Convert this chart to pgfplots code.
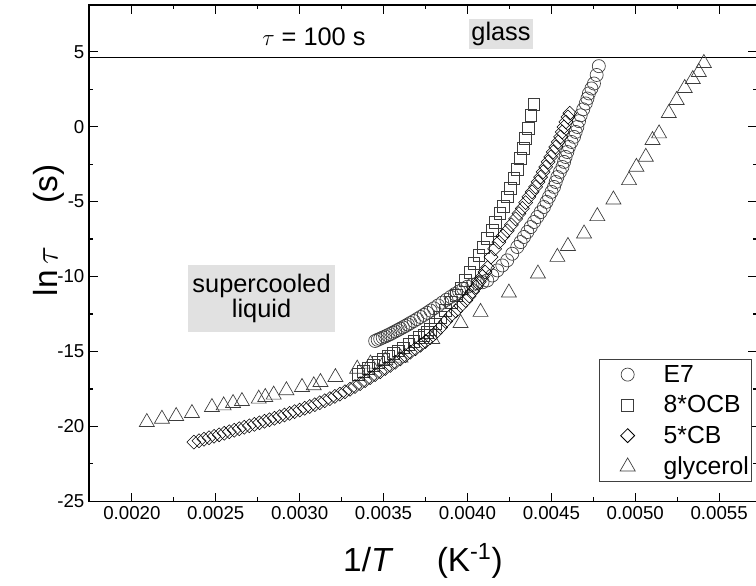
\documentclass[border=0pt]{standalone}
\usepackage{fontspec}
\setmainfont{Liberation Sans}
\usepackage{pgfplots}
\pgfplotsset{compat=1.18}
\definecolor{boxgray}{RGB}{225,225,225}
\definecolor{mk}{RGB}{60,60,60}

\begin{document}
\begin{tikzpicture}
\begin{axis}[
    scale only axis,
    width=500.25pt, height=371.8pt,
    xmin=0.001745, xmax=0.005725,
    ymin=-25, ymax=8.12,
    xtick={0.0020,0.0025,0.0030,0.0035,0.0040,0.0045,0.0050,0.0055},
    ytick={-25,-20,-15,-10,-5,0,5},
    minor x tick num=1, minor y tick num=1,
    scaled x ticks=false,
    xticklabel style={/pgf/number format/.cd, fixed, fixed zerofill, precision=4},
    /pgf/number format/assume math mode=true,
    ticklabel style={font=\fontsize{14}{16}\selectfont},
    tick align=inside,
    major tick length=6.5pt, minor tick length=3.2pt,
    axis line style={line width=1pt},
    every tick/.style={black, line width=0.9pt},
    xlabel={1/\textit{T}\hspace{1.3em}(K\textsuperscript{-1})},
    ylabel={ln\,$\tau$\hspace{1.3em}(s)},
    label style={font=\fontsize{25}{30}\selectfont},
    xlabel style={at={(axis description cs:0.5,-0.12)}, anchor=center},
    ylabel style={at={(axis description cs:-0.06,0.546)}, anchor=center},
    legend style={at={(rel axis cs:0.9925,0.286)}, anchor=north east,
        draw=black!75, line width=0.6pt, inner xsep=1pt, inner ysep=3pt,
        font=\fontsize{18.5}{22}\selectfont, row sep=6.5pt,
        nodes={inner sep=1pt}},
    legend cell align=left,
    legend image code/.code={\path[draw=none, fill=none] (-20pt,-4pt) rectangle (26pt,4pt); \draw[#1] plot coordinates {(0pt,0pt)};},
    every axis plot/.append style={only marks, mark options={draw=mk, fill=white, line width=0.5pt}},
]
\addplot[black, line width=1pt, no marks, forget plot, sharp plot] coordinates {(0.0015,4.605) (0.0060,4.605)};

% E7
\addplot[mark=o, mark size=4.9pt] coordinates {
(0.003450,-14.30) (0.003465,-14.22) (0.003480,-14.15) (0.003495,-14.07)
(0.003510,-14.00) (0.003525,-13.92) (0.003540,-13.84) (0.003555,-13.75)
(0.003570,-13.66) (0.003585,-13.57) (0.003600,-13.48) (0.003615,-13.39)
(0.003630,-13.30) (0.003645,-13.20) (0.003660,-13.10) (0.003680,-12.97)
(0.003700,-12.84) (0.003720,-12.70) (0.003740,-12.56) (0.003760,-12.42)
(0.003780,-12.27) (0.003800,-12.12) (0.003825,-11.93) (0.003850,-11.74)
(0.003875,-11.55) (0.003900,-11.36) (0.003925,-11.17) (0.003950,-10.99)
(0.003975,-10.82) (0.004000,-10.68) (0.004030,-10.55) (0.004060,-10.45)
(0.004090,-10.38) (0.004118,-10.26) (0.004148,-9.93) (0.004178,-9.59)
(0.004208,-9.26) (0.004237,-8.92) (0.004267,-8.48) (0.004297,-8.03)
(0.004317,-7.70) (0.004337,-7.36) (0.004357,-7.03) (0.004377,-6.70)
(0.004397,-6.36) (0.004416,-6.03) (0.004436,-5.70) (0.004456,-5.36)
(0.004471,-5.02) (0.004486,-4.69) (0.004501,-4.35) (0.004516,-4.02)
(0.004526,-3.69) (0.004536,-3.36) (0.004551,-3.02) (0.004566,-2.69)
(0.004576,-2.35) (0.004585,-2.02) (0.004595,-1.69) (0.004605,-1.35)
(0.004620,-1.02) (0.004635,-0.68) (0.004645,-0.35) (0.004655,-0.02)
(0.004665,0.37) (0.004675,0.76) (0.004690,1.16) (0.004705,1.55)
(0.004715,1.88) (0.004724,2.22) (0.004739,2.55) (0.004754,2.88)
(0.004770,3.45) (0.004783,4.04)
};
\addlegendentry{E7}

% 8*OCB
\addplot[mark=square, mark size=4.4pt] coordinates {
(0.003350,-16.55) (0.003380,-16.35) (0.003410,-16.15) (0.003440,-15.95)
(0.003470,-15.75) (0.003500,-15.55) (0.003530,-15.35) (0.003560,-15.15)
(0.003590,-14.95) (0.003620,-14.75) (0.003650,-14.53) (0.003680,-14.30)
(0.003710,-14.08) (0.003740,-13.90) (0.003760,-13.70) (0.003780,-13.52)
(0.003810,-13.15) (0.003840,-12.71) (0.003869,-12.26) (0.003903,-11.71)
(0.003935,-11.26) (0.003963,-10.81) (0.003989,-10.26) (0.004014,-9.70)
(0.004038,-9.14) (0.004068,-8.59) (0.004094,-8.03) (0.004118,-7.47)
(0.004148,-6.92) (0.004168,-6.36) (0.004193,-5.80) (0.004213,-5.31)
(0.004237,-4.69) (0.004257,-4.13) (0.004277,-3.46) (0.004297,-2.86)
(0.004317,-2.13) (0.004333,-1.46) (0.004347,-0.79) (0.004361,-0.12)
(0.004377,0.77) (0.004396,1.50)
};
\addlegendentry{8*OCB}

% 5*CB
\addplot[mark=square, mark size=3.7pt, mark options={rotate=45}] coordinates {
(0.00237,-21.05) (0.00240,-20.96) (0.00243,-20.86) (0.00246,-20.76)
(0.00249,-20.66) (0.00252,-20.56) (0.00255,-20.46) (0.00258,-20.36)
(0.00261,-20.26) (0.00264,-20.16) (0.00267,-20.06) (0.00270,-19.96)
(0.00273,-19.86) (0.00276,-19.76) (0.00279,-19.66) (0.00282,-19.56)
(0.00285,-19.46) (0.00288,-19.35) (0.00291,-19.24) (0.00294,-19.13)
(0.00297,-19.02) (0.00300,-18.91) (0.00303,-18.79) (0.00306,-18.67)
(0.00309,-18.55) (0.00312,-18.42) (0.00315,-18.29) (0.00318,-18.15)
(0.00321,-18.00) (0.00324,-17.85) (0.00327,-17.69) (0.00330,-17.52)
(0.00333,-17.34) (0.00336,-17.15) (0.00339,-16.95) (0.00342,-16.75)
(0.00345,-16.55) (0.00348,-16.35) (0.00351,-16.14) (0.00354,-15.93)
(0.00357,-15.72) (0.00360,-15.50) (0.00363,-15.28) (0.00366,-15.05)
(0.00369,-14.82) (0.00372,-14.58) (0.00375,-14.33) (0.00378,-14.07)
(0.00381,-13.75) (0.00384,-13.40) (0.00387,-13.00) (0.00390,-12.60)
(0.00393,-12.30) (0.00396,-11.95) (0.00399,-11.60) (0.00401,-11.30)
(0.00403,-11.00) (0.00405,-10.70) (0.00407,-10.35) (0.00409,-10.00)
(0.004105,-9.70) (0.00412,-9.40) (0.00414,-8.70) (0.004162,-8.15)
(0.004187,-7.70) (0.004212,-7.30) (0.004237,-6.95) (0.004262,-6.55)
(0.004287,-6.15) (0.004307,-5.80) (0.004327,-5.45) (0.004347,-5.07)
(0.004366,-4.69) (0.004386,-4.35) (0.004406,-4.02) (0.004421,-3.69)
(0.004436,-3.36) (0.004451,-3.02) (0.004466,-2.69) (0.004481,-2.35)
(0.004496,-2.02) (0.004511,-1.69) (0.004526,-1.35) (0.004541,-1.02)
(0.004555,-0.68) (0.004565,-0.35) (0.004575,-0.02) (0.004587,0.32)
(0.004599,0.65) (0.004610,0.90)
};
\addlegendentry{5*CB}

% glycerol
\addplot[mark=triangle, mark size=6.5pt] coordinates {
(0.002089,-19.72) (0.002179,-19.50) (0.002264,-19.32) (0.002358,-19.12)
(0.002477,-18.72) (0.002547,-18.61) (0.002603,-18.45) (0.002656,-18.32)
(0.002756,-18.16) (0.002795,-18.05) (0.002845,-17.89) (0.002921,-17.60)
(0.003014,-17.38) (0.003084,-17.27) (0.003124,-17.05) (0.003213,-16.72)
(0.003343,-16.16) (0.003422,-15.82) (0.003511,-15.60) (0.003601,-15.42)
(0.003790,-14.18) (0.003959,-13.11) (0.004078,-12.37) (0.004247,-11.08)
(0.004420,-9.81) (0.004536,-8.70) (0.004599,-7.97) (0.004695,-7.14)
(0.004774,-5.98) (0.004870,-4.87) (0.004963,-3.58) (0.005007,-2.69)
(0.005063,-2.02) (0.005103,-0.90) (0.005142,-0.46) (0.005200,0.90)
(0.005247,1.77) (0.005295,2.57) (0.005343,3.17) (0.005379,3.64)
(0.005409,4.24)
};
\addlegendentry{glycerol}

\node[fill=boxgray, inner xsep=2pt, inner ysep=2.5pt, font=\fontsize{19}{22}\selectfont] at (axis cs:0.00420,6.18) {glass};
\node[font=\fontsize{19}{22}\selectfont] at (axis cs:0.003085,6.0) {$\tau$ = 100 s};
\node[fill=boxgray, minimum width=108pt, minimum height=50pt, align=center, font=\fontsize{19}{19}\selectfont] at (axis cs:0.002773,-11.48) {supercooled\\liquid};
\end{axis}
\pgfresetboundingbox
\path (-66.75pt,-63.2pt) rectangle (499.6pt,375.55pt);
\end{tikzpicture}
\end{document}
